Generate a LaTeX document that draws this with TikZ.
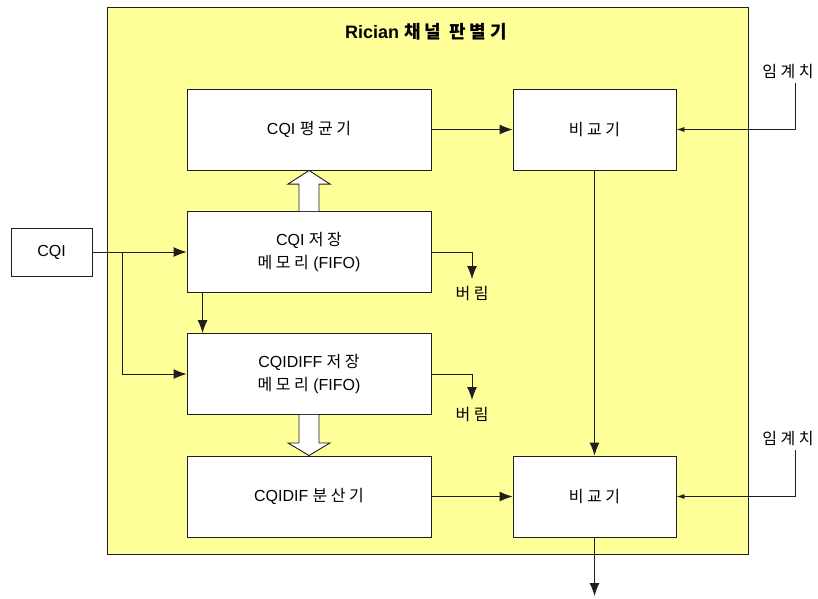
\documentclass[tikz,border=0pt]{standalone}
\usepackage{fontspec}
\setmainfont{Liberation Sans}
\newfontfamily\kr{Noto Sans CJK KR}[LetterSpace=22]
\newcommand\kor[1]{{\kr #1}}
\usetikzlibrary{arrows.meta,calc}
\definecolor{panel}{RGB}{255,255,153}
\definecolor{ink}{RGB}{30,30,30}
\begin{document}
\begin{tikzpicture}[x=1pt,y=-1pt,
  box/.style={draw=ink, fill=white, line width=0.9pt, minimum width=244pt, minimum height=81pt, inner sep=0pt, align=center, font=\fontsize{16}{23}\selectfont},
  cmpbox/.style={box, minimum width=163pt},
  lbl/.style={font=\fontsize{16}{18}\selectfont, inner sep=0pt},
  conn/.style={draw=ink, line width=0.9pt, -{Latex[length=13pt,width=10pt]}},
  thr/.style={draw=ink, line width=0.9pt, -{Latex[length=8pt,width=5pt]}},
  fat/.style={draw=ink, fill=white, line width=0.9pt, line join=miter}
]
\useasboundingbox (0,0) rectangle (818,598);
\node[draw=ink, fill=panel, line width=0.9pt, minimum width=641pt, minimum height=547pt, inner sep=0pt] (panel) at (427.5,280.5) {};
\node[lbl, font=\fontsize{18}{20}\selectfont\bfseries] (title) at (426,32) {Rician \kor{채널 판별기}};

\node[box, minimum width=81pt, minimum height=48pt] (cqi) at (51.5,252) {CQI};
\node[box] (avg) at (309,129.5) {CQI \kor{평균기}};
\node[cmpbox] (cmpa) at (594.5,129.5) {\kor{비교기}};
\node[box] (mem) at (309,252) {CQI \kor{저장}\\\kor{메모리} (FIFO)};
\node[box] (dmem) at (309,374) {CQIDIFF \kor{저장}\\\kor{메모리} (FIFO)};
\node[box] (var) at (309,496.5) {CQIDIF \kor{분산기}};
\node[cmpbox] (cmpb) at (594.5,496.5) {\kor{비교기}};

\node[lbl] (drop1) at (472,294) {\kor{버림}};
\node[lbl] (drop2) at (472,415) {\kor{버림}};
\node[lbl, inner sep=4pt] (th1) at (788,72) {\kor{임계치}};
\node[lbl, inner sep=5pt] (th2) at (788,438) {\kor{임계치}};
\coordinate (d1) at (472,279);
\coordinate (d2) at (472,400);
\coordinate (out) at (594.5,596);
\coordinate (br) at ($(cqi.east)+(30,0)$);

% connectors
\draw[conn] (cqi.east) -- (mem.west);
\draw[conn] (br) |- (dmem.west);
\draw[conn] ($(mem.south west)+(16,0)$) -- ($(dmem.north west)+(16,0)$);
\draw[conn] (avg.east) -- (cmpa.west);
\draw[conn] (var.east) -- (cmpb.west);
\draw[conn] (cmpa.south) -- (cmpb.north);
\draw[conn] (cmpb.south) -- (out);
\draw[conn] (mem.east) -| (d1);
\draw[conn] (dmem.east) -| (d2);
\draw[thr] ($(th1.south)+(7,0)$) |- (cmpa.east);
\draw[thr] ($(th2.south)+(7,0)$) |- (cmpb.east);

% hollow block arrows
\draw[fat] ($(mem.north)+(-10,0)$) -- ($(mem.north)+(-10,-27)$) -- ($(mem.north)+(-21,-27)$)
  -- (avg.south) -- ($(mem.north)+(21,-27)$) -- ($(mem.north)+(10,-27)$) -- ($(mem.north)+(10,0)$);
\draw[fat] ($(dmem.south)+(-10,0)$) -- ($(dmem.south)+(-10,28)$) -- ($(dmem.south)+(-21,28)$)
  -- (var.north) -- ($(dmem.south)+(21,28)$) -- ($(dmem.south)+(10,28)$) -- ($(dmem.south)+(10,0)$);
\end{tikzpicture}
\end{document}
